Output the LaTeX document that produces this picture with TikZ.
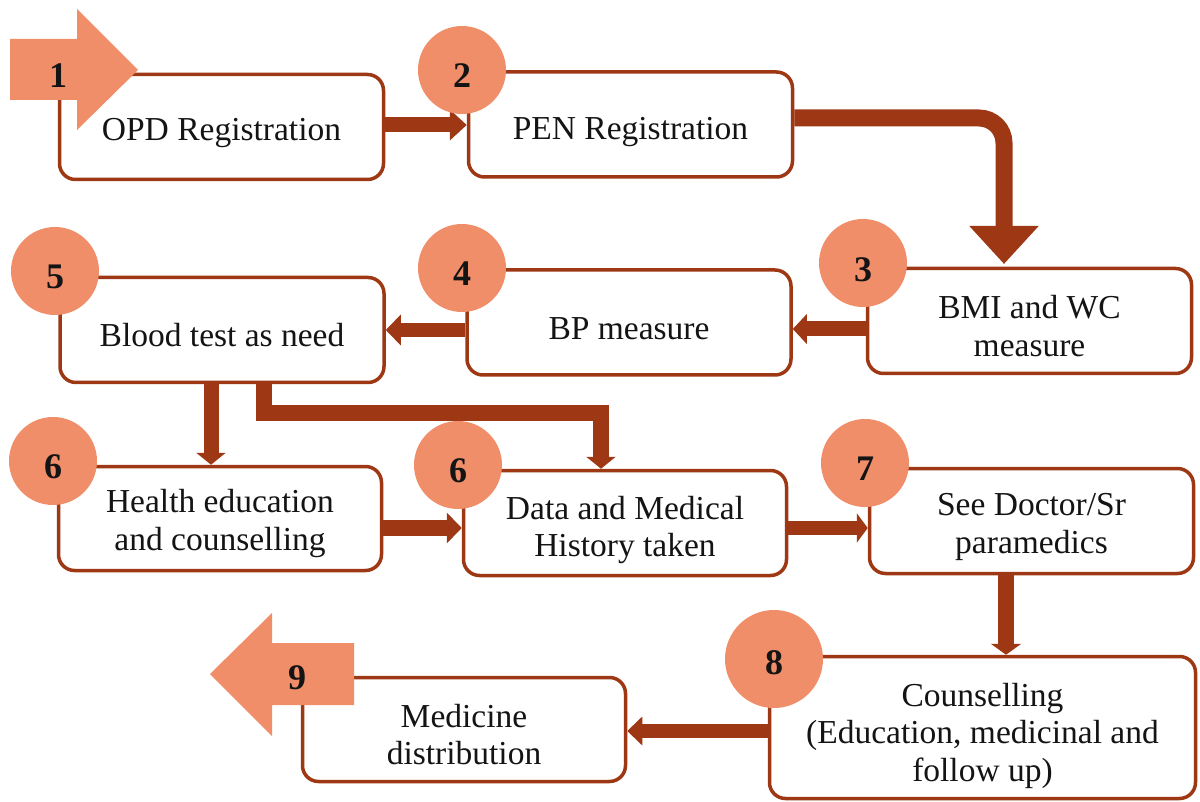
\documentclass[tikz,border=0pt]{standalone}
\usepackage{fontspec}
\setmainfont{Liberation Serif}
\usetikzlibrary{arrows.meta}
\definecolor{rust}{RGB}{158,55,20}
\definecolor{salmon}{RGB}{240,142,106}
\definecolor{ink}{RGB}{20,20,20}
\begin{document}
\begin{tikzpicture}[x=1pt,y=-1pt,
  box/.style={draw=rust,line width=3.5pt,fill=white,rounded corners=16pt,
    inner sep=0pt,minimum width=324pt,minimum height=105pt},
  btxt/.style={align=center,inner sep=0pt,font=\fontsize{33.5}{37.5}\selectfont,text=ink,yshift=-5pt},
  numc/.style={circle,fill=salmon,minimum size=88pt,inner sep=0pt},
  numt/.style={font=\fontsize{36}{36}\selectfont\bfseries,text=ink,inner sep=0pt},
  conn/.style={draw=rust,line cap=butt,line join=miter}]
\useasboundingbox (0,0) rectangle (1200,802);
% boxes
\node[box,label={[btxt,yshift=-1pt]center:OPD Registration}] (b1) at (221.5,127) {};
\node[box,label={[btxt,yshift=-3pt]center:PEN Registration}] (b2) at (630.5,124.5) {};
\node[box,label={[btxt]center:{BMI and WC\\measure}}] (b3) at (1029.5,321) {};
\node[box,label={[btxt,yshift=-1pt]center:BP measure}] (b4) at (629,322.5) {};
\node[box,label={[btxt,yshift=0pt]center:Blood test as need}] (b5) at (222,330) {};
\node[box,minimum width=323pt,minimum height=104pt,label={[btxt]center:{Health education\\and counselling}}] (b6a) at (220,518.5) {};
\node[box,minimum width=323pt,label={[btxt,yshift=-2pt]center:{Data and Medical\\History taken}}] (b6b) at (625,523) {};
\node[box,label={[btxt,yshift=-1pt]center:{See Doctor/Sr\\paramedics}}] (b7) at (1031.5,521) {};
\node[box,minimum width=426pt,minimum height=142pt,label={[btxt,yshift=-3pt]center:{Counselling\\(Education, medicinal and\\follow up)}}] (b8) at (982.5,727.5) {};
\node[box,minimum width=323pt,minimum height=104pt,label={[btxt]center:{Medicine\\distribution}}] (b9) at (464,729.5) {};
% connectors
\draw[conn,line width=15pt,-{Triangle[width=30pt,length=17pt]}] (b1.east |- 0,125) -- (b2.west |- 0,125);
\draw[conn,line width=17pt,rounded corners=25pt,-{Triangle[width=67pt,length=38pt]}] (b2.east |- 0,118) -| (1004,264);
\draw[conn,line width=15pt,-{Triangle[width=29pt,length=14pt]}] (b3.west |- 0,329) -- (b4.east |- 0,329);
\draw[conn,line width=14pt,-{Triangle[width=30pt,length=15pt]}] (b4.west |- 0,330) -- (b5.east |- 0,330);
\draw[conn,line width=15pt,-{Triangle[width=29pt,length=12pt]}] (211,0 |- b5.south) -- (211,0 |- b6a.north);
\draw[conn,line width=16pt,-{Triangle[width=29pt,length=12pt]}] (264,0 |- b5.south) -- (264,413) -| (601,0 |- b6b.north);
\draw[conn,line width=16pt,-{Triangle[width=30pt,length=15pt]}] (b6a.east |- 0,528) -- (b6b.west |- 0,528);
\draw[conn,line width=14pt,-{Triangle[width=29pt,length=11pt]}] (b6b.east |- 0,528) -- (b7.west |- 0,528);
\draw[conn,line width=16pt,-{Triangle[width=30pt,length=11pt]}] (1006,0 |- b7.south) -- (1006,0 |- b8.north);
\draw[conn,line width=14pt,-{Triangle[width=28pt,length=15pt]}] (b8.west |- 0,731) -- (b9.east |- 0,731);
% big arrows
\fill[salmon] (10,39) -- (77,39) -- (77,9) -- (138,70) -- (77,130) -- (77,100) -- (10,100) -- cycle;
\node[numt] (n1) at (58,76) {1};
\fill[salmon] (354,643) -- (272,643) -- (272,613) -- (210,674) -- (272,736) -- (272,705) -- (354,705) -- cycle;
\node[numt] (n9) at (297,678) {9};
% circles
\node[numc] (c2) at (462,70) {};
\node[numt] at ([yshift=-6pt]c2.center) {2};
\node[numc] (c3) at (863,263) {};
\node[numt] at ([yshift=-7pt]c3.center) {3};
\node[numc] (c4) at (462,268) {};
\node[numt] at ([yshift=-6pt]c4.center) {4};
\node[numc] (c5) at (55,271) {};
\node[numt] at ([yshift=-6pt]c5.center) {5};
\node[numc] (c6a) at (53,461) {};
\node[numt] at ([yshift=-6pt]c6a.center) {6};
\node[numc] (c6b) at (458,465) {};
\node[numt] at ([yshift=-6pt]c6b.center) {6};
\node[numc] (c7) at (865,463) {};
\node[numt] at ([yshift=-6pt]c7.center) {7};
\node[numc,minimum size=98pt] (c8) at (774,659) {};
\node[numt] at ([yshift=-4pt]c8.center) {8};
\end{tikzpicture}
\end{document}
